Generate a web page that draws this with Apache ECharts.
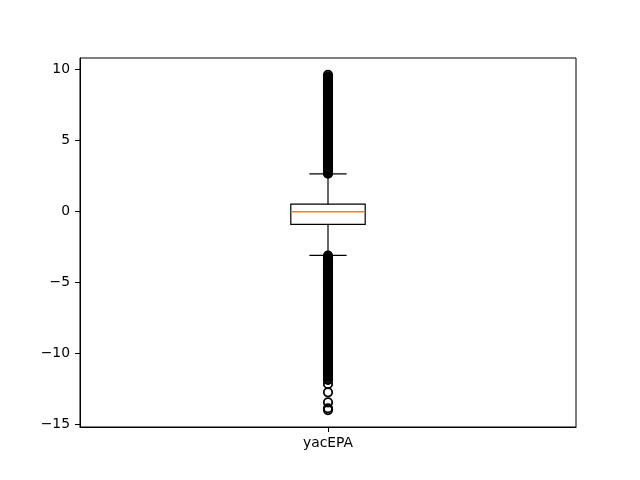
<!DOCTYPE html>
<html>
<head>
<meta charset="utf-8">
<script src="https://cdn.jsdelivr.net/npm/echarts@6/dist/echarts.min.js"></script>
<style>html,body{margin:0;padding:0;background:#fff}#c{width:640px;height:480px}</style>
</head>
<body>
<div id="c"></div>
<script>
// ---- data ----
const categories = ['yacEPA'];
// [lower whisker, Q1, median, Q3, upper whisker]
const boxStats = [-3.09, -0.91, -0.02, 0.51, 2.65];
const outliersHigh = [2.66, 2.75, 2.84, 2.93, 3.02, 3.11, 3.2, 3.29, 3.38, 3.47, 3.56, 3.65, 3.74, 3.83, 3.92, 4.01, 4.1, 4.19, 4.28, 4.37, 4.46, 4.55, 4.64, 4.73, 4.82, 4.91, 5.0, 5.09, 5.18, 5.27, 5.36, 5.45, 5.54, 5.63, 5.72, 5.81, 5.9, 5.99, 6.08, 6.17, 6.26, 6.35, 6.44, 6.53, 6.62, 6.71, 6.8, 6.89, 6.98, 7.07, 7.16, 7.25, 7.34, 7.43, 7.52, 7.61, 7.7, 7.79, 7.88, 7.97, 8.06, 8.15, 8.24, 8.33, 8.42, 8.51, 8.6, 8.69, 8.78, 8.87, 8.96, 9.05, 9.14, 9.22, 9.31, 9.4, 9.5, 9.62];
const outliersLow = [-3.1, -3.19, -3.28, -3.37, -3.46, -3.55, -3.64, -3.73, -3.82, -3.91, -4.0, -4.09, -4.18, -4.27, -4.36, -4.45, -4.54, -4.63, -4.72, -4.81, -4.9, -4.99, -5.08, -5.17, -5.26, -5.35, -5.44, -5.53, -5.62, -5.71, -5.8, -5.89, -5.98, -6.07, -6.16, -6.25, -6.34, -6.43, -6.52, -6.61, -6.7, -6.79, -6.88, -6.97, -7.06, -7.15, -7.24, -7.33, -7.42, -7.51, -7.6, -7.69, -7.78, -7.87, -7.96, -8.05, -8.14, -8.23, -8.32, -8.41, -8.5, -8.59, -8.68, -8.77, -8.86, -8.95, -9.04, -9.13, -9.22, -9.31, -9.4, -9.49, -9.58, -9.67, -9.76, -9.85, -9.94, -10.03, -10.12, -10.21, -10.3, -10.39, -10.48, -10.57, -10.66, -10.75, -10.84, -10.93, -11.02, -11.11, -11.2, -11.29, -11.38, -11.47, -11.56, -11.65, -11.75, -11.85, -12.14, -12.73, -13.44, -13.85, -13.98];
const yTicks = [-15, -10, -5, 0, 5, 10];
const yMin = -15.17, yMax = 10.80;

// ---- chart ----
const chart = echarts.init(document.getElementById('c'), null, {renderer: 'canvas'});
const font = 'DejaVu Sans';
const outlierData = outliersHigh.concat(outliersLow).map(v => [0, v]);

chart.setOption({
  backgroundColor: '#fff',
  animation: false,
  grid: {left: 80, right: 64, top: 58, bottom: 53, show: true, borderColor: '#000', borderWidth: 1, backgroundColor: 'transparent'},
  xAxis: {
    type: 'category', data: categories, boundaryGap: true,
    axisLine: {show: true, onZero: false, lineStyle: {color: '#000', width: 1}},
    axisTick: {show: true, alignWithLabel: true, length: 5, lineStyle: {color: '#000'}},
    axisLabel: {color: '#000', fontFamily: font, fontSize: 13.9, margin: 9},
    splitLine: {show: false}
  },
  yAxis: {
    type: 'value', min: yMin, max: yMax,
    axisLine: {show: true, onZero: false, lineStyle: {color: '#000', width: 1}},
    axisTick: {show: true, length: 5, customValues: yTicks, lineStyle: {color: '#000'}},
    axisLabel: {color: '#000', fontFamily: font, fontSize: 13.9, margin: 10, customValues: yTicks,
      formatter: v => String(v).replace('-', '\u2212')},
    splitLine: {show: false}
  },
  series: [
    {
      type: 'custom',
      data: [[0].concat(boxStats)],
      encode: {x: 0, y: [1, 2, 3, 4, 5]},
      z: 2,
      renderItem: function (params, api) {
        const xi = api.value(0);
        const cx = api.coord([xi, 0])[0];
        const bw = api.size([1, 0])[0] * 0.15;
        const y = i => api.coord([xi, api.value(i)])[1];
        const lo = y(1), q1 = y(2), med = y(3), q3 = y(4), hi = y(5);
        const ls = {stroke: '#000', lineWidth: 1.2, fill: null};
        return {
          type: 'group',
          children: [
            {type: 'rect', shape: {x: cx - bw / 2, y: q3, width: bw, height: q1 - q3}, style: {stroke: '#000', lineWidth: 1.2, fill: 'none'}},
            {type: 'line', shape: {x1: cx - bw / 2, y1: med, x2: cx + bw / 2, y2: med}, style: {stroke: '#ff7f0e', lineWidth: 1.3}},
            {type: 'line', shape: {x1: cx, y1: q3, x2: cx, y2: hi}, style: ls},
            {type: 'line', shape: {x1: cx, y1: q1, x2: cx, y2: lo}, style: ls},
            {type: 'line', shape: {x1: cx - bw / 4, y1: hi, x2: cx + bw / 4, y2: hi}, style: ls},
            {type: 'line', shape: {x1: cx - bw / 4, y1: lo, x2: cx + bw / 4, y2: lo}, style: ls}
          ]
        };
      }
    },
    {
      type: 'scatter',
      data: outlierData,
      symbol: 'circle',
      symbolSize: 8.4,
      z: 3,
      itemStyle: {color: 'rgba(0,0,0,0)', borderColor: '#000', borderWidth: 1.8, opacity: 1},
      emphasis: {disabled: true}
    }
  ]
});
</script>
</body>
</html>
